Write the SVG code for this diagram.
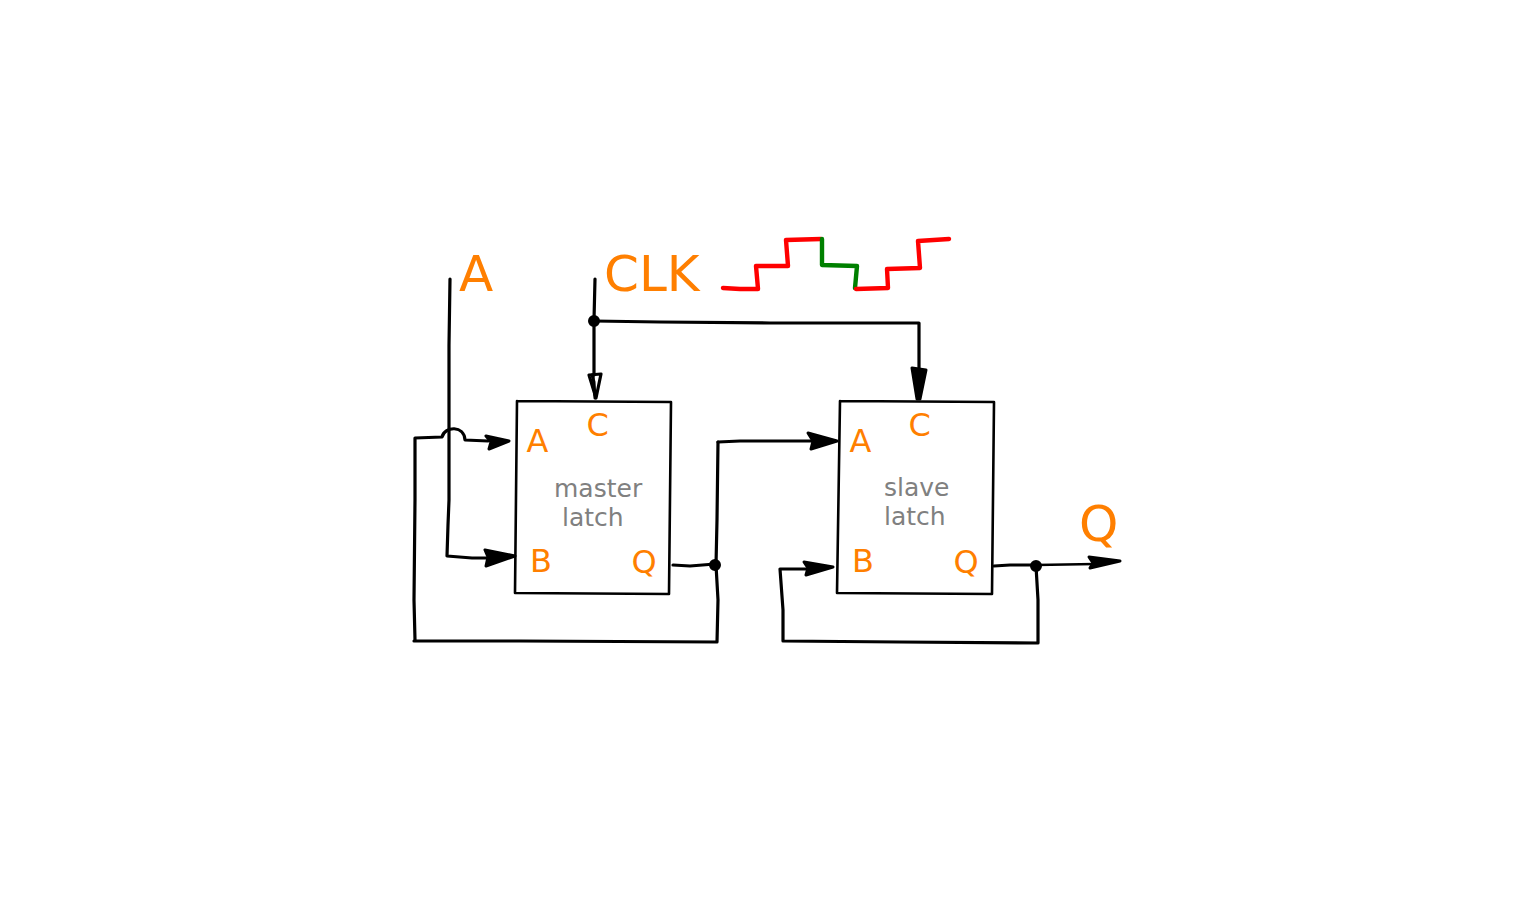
<svg xmlns="http://www.w3.org/2000/svg" width="1530" height="900" viewBox="0 0 1530 900">
<style>
text{font-family:"DejaVu Sans",sans-serif}
.big{font-size:50px;fill:#ff7f00}
.port{font-size:32px;fill:#ff7f00}
.name{font-size:25px;fill:#808080}
.w{fill:none;stroke:#000;stroke-width:3.2;stroke-linecap:round;stroke-linejoin:round}
.b{fill:none;stroke:#000;stroke-width:2.6;stroke-linecap:round;stroke-linejoin:round}
.h{fill:#000;stroke:#000;stroke-width:3;stroke-linejoin:round}
.r{fill:none;stroke:#ff0000;stroke-width:4.4;stroke-linecap:round;stroke-linejoin:round}
.g{fill:none;stroke:#008000;stroke-width:4.4;stroke-linecap:round;stroke-linejoin:round}
</style>
<rect width="1530" height="900" fill="#fff"/>
<g id="connectors">
<path class="w" d="M450 279 L449 345 L449 430 L449 500 L448 525 L447 556 L472 558 L488 558"/>
<path class="h" d="M485 550 L515 556 L486 566 L488 557 Z"/>
<path class="w" d="M415 640 L414 600 L415 500 L415 438 L442 437 C445 426 464 425 465 440 L488 441"/>
<path class="h" d="M486 436 L509 441 L489 449 L491 442 Z"/>
<path class="w" d="M595 279 L594 320 L594 375"/>
<path class="w" d="M589 375 L601 374 L596 398 Z"/>
<path class="h" d="M594 382 L592 375 L593 375 L595 398 Z"/>
<circle class="h" cx="594" cy="321" r="4.500"/>
<path class="w" d="M594 321 L660 322 L770 323 L919 323 L919 372"/>
<path class="h" d="M912 368 L926 370 L920 399 L917 399 Z"/>
<path class="w" d="M673 565 L690 566 L715 564"/>
<circle class="h" cx="715" cy="565" r="4.500"/>
<path class="w" d="M718 442 L717 520 L716 565 L718 600 L717 642 L520 641 L414 641"/>
<path class="w" d="M718 442 L740 441 L812 441"/>
<path class="h" d="M808 433 L837 441 L811 449 L813 441 Z"/>
<path class="w" d="M994 566 L1010 565 L1036 565"/>
<circle class="h" cx="1036" cy="566" r="4.500"/>
<path class="b" d="M1036 565 L1095 564"/>
<path class="h" d="M1089 557 L1120 561 L1090 568 L1093 563 Z"/>
<path class="w" d="M1036 566 L1038 600 L1038 643 L900 642 L783 641 L783 610 L780 569 L806 569"/>
<path class="h" d="M804 562 L833 567 L806 575 L808 568 Z"/>
</g>
<g id="clock-waveform">
<path class="r" d="M723 288 L740 289 L758 289 L756 266 L788 266 L786 240 L821 239"/>
<path class="g" d="M822 239 L822 265 L857 266 L855 288"/>
<path class="r" d="M856 289 L888 288 L887 269 L920 268 L918 241 L949 239"/>
</g>
<g id="label-a"><text class="big" x="459" y="291">A</text></g>
<g id="label-clk"><text class="big" x="604" y="291">CLK</text></g>
<g id="label-q"><text class="big" x="1079" y="541">Q</text></g>
<g id="master-latch">
<path class="b" d="M517 401 L671 402 L669 594 L515 593 L517 401"/>
<text class="port" x="526.500" y="452">A</text>
<text class="port" x="586.500" y="436">C</text>
<text class="port" x="530" y="572">B</text>
<text class="port" x="631.500" y="573">Q</text>
<text class="name" x="554" y="497">master</text>
<text class="name" x="562" y="526">latch</text>
</g>
<g id="slave-latch">
<path class="b" d="M840 401 L994 402 L992 594 L837 593 L840 401"/>
<text class="port" x="849.500" y="452">A</text>
<text class="port" x="908.500" y="436">C</text>
<text class="port" x="852" y="572">B</text>
<text class="port" x="953.500" y="573">Q</text>
<text class="name" x="884" y="496">slave</text>
<text class="name" x="884" y="525">latch</text>
</g>
</svg>
